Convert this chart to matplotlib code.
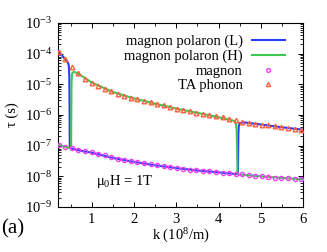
import numpy as np
import matplotlib
matplotlib.use("Agg")
import matplotlib.pyplot as plt
from matplotlib.ticker import FixedLocator, LogLocator, NullFormatter, FuncFormatter

plt.rcParams['font.family'] = ['Liberation Serif', 'DejaVu Serif']
plt.rcParams['mathtext.fontset'] = 'custom'
plt.rcParams['mathtext.rm'] = 'Liberation Serif'
plt.rcParams['mathtext.it'] = 'Liberation Serif:italic'

# ---- data (log10 of tau in seconds) ----
k_marks = [0.22, 0.375, 0.53, 0.685, 0.84, 0.995, 1.15, 1.305, 1.46, 1.615,
           1.77, 1.925, 2.08, 2.235, 2.39, 2.545, 2.70, 2.855, 3.01, 3.165,
           3.32, 3.475, 3.63, 3.785, 3.94, 4.095, 4.25, 4.405, 4.56, 4.715,
           4.87, 5.025, 5.18, 5.335, 5.49, 5.645, 5.80, 5.955]
log_tau_phonon = [-3.94, -4.19, -4.43, -4.64, -4.82, -4.96, -5.06, -5.15, -5.23, -5.30,
                  -5.37, -5.43, -5.49, -5.54, -5.59, -5.64, -5.69, -5.74, -5.79, -5.83,
                  -5.88, -5.92, -5.96, -6.00, -6.04, -6.08, -6.12, -6.16, -6.22, -6.25,
                  -6.28, -6.31, -6.34, -6.37, -6.40, -6.43, -6.45, -6.48]
log_tau_magnon = [-6.98, -7.04, -7.09, -7.13, -7.17, -7.22, -7.27, -7.32, -7.37, -7.42,
                  -7.46, -7.50, -7.53, -7.57, -7.60, -7.63, -7.66, -7.69, -7.72, -7.75,
                  -7.78, -7.80, -7.82, -7.84, -7.86, -7.88, -7.90, -7.92, -7.94, -7.96,
                  -7.98, -8.00, -8.02, -8.04, -8.05, -8.07, -8.08, -8.10]

k_L = [0.2, 0.3, 0.4, 0.43, 0.45, 0.46, 0.468, 0.474, 0.478, 0.52, 0.6, 0.8, 1.0,
       1.5, 2.0, 2.5, 3.0, 3.5, 4.0, 4.3, 4.44, 4.46, 4.465, 4.47, 4.48, 4.5, 4.55,
       4.6, 5.0, 5.5, 6.0]
log_tau_L = [-3.91, -4.07, -4.22, -4.28, -4.36, -4.46, -4.8, -5.8, -7.07, -7.09, -7.12,
             -7.18, -7.23, -7.40, -7.53, -7.64, -7.73, -7.81, -7.87, -7.91, -7.93, -7.90,
             -7.2, -6.6, -6.36, -6.27, -6.25, -6.24, -6.31, -6.40, -6.48]

k_H = [0.2, 0.3, 0.4, 0.48, 0.51, 0.515, 0.52, 0.53, 0.545, 0.565, 0.6, 0.7, 0.8,
       1.0, 1.5, 2.0, 2.5, 3.0, 3.5, 4.0, 4.3, 4.38, 4.41, 4.43, 4.44, 4.45, 4.5,
       5.0, 5.5, 6.0]
log_tau_H = [-6.97, -7.01, -7.05, -7.08, -7.07, -6.0, -4.95, -4.68, -4.62, -4.60, -4.60,
             -4.67, -4.76, -4.94, -5.25, -5.46, -5.63, -5.79, -5.93, -6.07, -6.16, -6.20,
             -6.26, -6.5, -7.2, -7.92, -7.94, -8.00, -8.05, -8.10]

series_labels = ["magnon polaron (L)", "magnon polaron (H)", "magnon", "TA phonon"]
x_ticks = [1, 2, 3, 4, 5, 6]
y_decades = [-9, -8, -7, -6, -5, -4, -3]

# ---- figure ----
fig = plt.figure(figsize=(3.27, 2.52), dpi=100)
ax = fig.add_axes([58 / 327, 1 - 207 / 252, (303 - 58) / 327, (207 - 23) / 252])

tl = lambda v: [10.0 ** x for x in v]
ax.plot(k_L, tl(log_tau_L), color='#2a3cff', lw=1.5, label=series_labels[0], zorder=3)
ax.plot(k_H, tl(log_tau_H), color='#3cc850', lw=1.5, label=series_labels[1], zorder=3)
ax.plot(k_marks, tl(log_tau_magnon), ls='none', marker='o', ms=3.0, mfc='none',
        mec='#f040f0', mew=1.0, label=series_labels[2], zorder=4)
ax.plot(k_marks, tl(log_tau_phonon), ls='none', marker='^', ms=3.3, mfc='none',
        mec='#ff6040', mew=1.0, label=series_labels[3], zorder=4)

ax.set_yscale('log')
ax.set_xlim(0.2, 6)
ax.set_ylim(1e-9, 1e-3)
ax.xaxis.set_major_locator(FixedLocator(x_ticks))
ax.xaxis.set_minor_locator(FixedLocator([0.5, 1.5, 2.5, 3.5, 4.5, 5.5]))
ax.yaxis.set_major_locator(FixedLocator([10.0 ** d for d in y_decades]))
ax.yaxis.set_minor_locator(LogLocator(base=10, subs=np.arange(2, 10)))
ax.yaxis.set_minor_formatter(NullFormatter())
ax.yaxis.set_major_formatter(FuncFormatter(lambda v, p: r"$10^{%d}$" % round(np.log10(v))))

ax.tick_params(which='both', direction='in', top=True, right=True, labelsize=10.5)
ax.tick_params(which='major', length=3.5, width=0.7)
ax.tick_params(which='minor', length=2, width=0.6)
ax.tick_params(axis='y', pad=4)
ax.tick_params(axis='x', pad=4)
for s in ax.spines.values():
    s.set_linewidth(0.8)

ax.set_xlabel(r"k (10$^8$/m)", fontsize=10.5, labelpad=1)
ax.set_ylabel("τ (s)", fontsize=10.5, labelpad=4)

ax.legend(loc='upper right', bbox_to_anchor=(0.975, 1.0), frameon=False, markerfirst=False,
          fontsize=10.5, handlelength=2.3, handletextpad=0.6, labelspacing=0.1,
          numpoints=1, borderaxespad=0.4, markerscale=0.9)

ax.text(0.155, 0.12, r"μ$_0$H = 1T", transform=ax.transAxes, fontsize=10.5)
fig.text(0.003, 0.075, "(a)", fontsize=15)

fig.savefig("out.png", dpi=100)
